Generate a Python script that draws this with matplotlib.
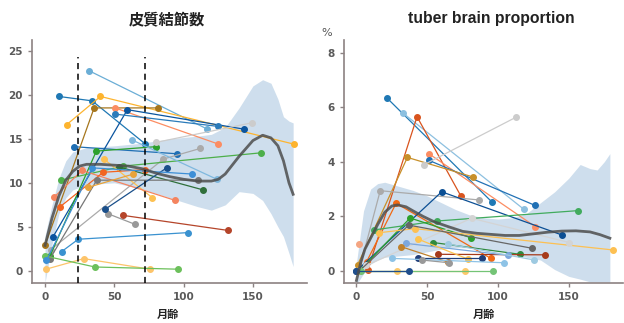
import matplotlib.pyplot as plt

plt.rcParams['font.family'] = ['Noto Sans CJK JP', 'DejaVu Sans']

# ---- left panel data (皮質結節数) ----
left_months = [
    [32, 117], [10, 34, 72.4], [21, 95], [4, 85.4, 112], [15.6, 40, 179.3],
    [0, 35.4, 81.8], [50.5, 125], [5.5, 59.4, 143.2], [50.5, 125], [3.6, 37, 79.8],
    [11.6, 56.5, 155.5], [53.4, 114], [42.4, 77.5], [6.7, 26.7, 94], [11, 42, 72.4],
    [3.6, 37.3, 110], [45.3, 64.8], [43.3, 87.8], [56.6, 132], [12, 24, 103],
    [0.7, 28, 75.6], [0, 36, 96], [80.4, 149], [1, 34, 106], [31.3, 63.8], [63, 124],
]
left_counts = [
    [22.7, 16.1], [19.8, 19.3, 14.4], [14.1, 13.3], [2.4, 12.7, 13.9], [16.6, 19.8, 14.4],
    [2.9, 18.5, 18.5], [18.5, 14.4], [3.8, 18.3, 16.1], [17.8, 16.4], [1.7, 13.6, 14.1],
    [10.3, 11.9, 13.4], [11.8, 9.2], [12.7, 8.3], [8.4, 11.4, 8.0], [7.3, 11.2, 11.5],
    [1.4, 10.3, 10.3], [6.5, 5.3], [7.0, 11.7], [6.3, 4.6], [2.2, 3.6, 4.35],
    [0.2, 1.4, 0.2], [1.7, 0.45, 0.2], [14.6, 16.8], [1.2, 11.7, 11.0], [9.5, 11.0], [14.85, 10.4],
]
left_colors = [
    '#6baed6', '#1f78b4', '#1f6fb4', '#aaaaaa', '#fdb42f',
    '#a6761d', '#fc8d62', '#0b559f', '#2b7bba', '#2ca02c',
    '#4daf4a', '#2f6f3a', '#fdc152', '#f4845f', '#f26522',
    '#777777', '#999999', '#1a4f8a', '#b5452a', '#3a92d0',
    '#fdc46a', '#6cc05b', '#cccccc', '#3d8fd6', '#e8a33a', '#7fb8de',
]

left_band_x = [0, 5, 10, 15, 20, 30, 50, 70, 90, 110, 120, 130, 140, 150, 157, 163, 168, 172, 176, 179]
left_band_hi = [4, 7.5, 10.5, 12.5, 13.5, 14, 14.2, 14.5, 15, 15.3, 15.5, 16.3, 18.5, 21, 21.7, 21.3, 19.5, 17.5, 17, 16.8]
left_band_lo = [-1.3, 3.0, 6.5, 8.3, 9.2, 9.8, 10.0, 9.3, 8.3, 7.3, 6.9, 7.5, 9.0, 8.8, 8.0, 6.5, 5.0, 3.9, 2.0, 0.5]

left_fit_x = [0, 5, 10, 15, 20, 25, 30, 40, 50, 60, 70, 80, 90, 100, 110, 120, 125, 130, 140, 150, 157, 163, 168, 172, 176, 179]
left_fit_y = [2.9, 6, 8.5, 10.3, 11.3, 11.9, 12.1, 12.1, 12, 11.9, 11.6, 11.1, 10.7, 10.4, 10.2, 10.2, 10.4, 11, 13, 14.8, 15.4, 15.1, 14.2, 12.5, 10.0, 8.7]

# ---- right panel data (tuber brain proportion, %) ----
right_months = [
    [21.7, 95.4], [33, 118.2], [8, 42.8, 73.6], [7.2, 28, 94.9], [51.3, 126.4],
    [51.3, 126.2], [0.8, 36, 82.5], [48, 113], [2, 16.8, 86.8], [0, 60.2, 145],
    [12.2, 56.9, 156.5], [2, 37.9, 80.6], [16, 41.2, 181], [7, 81.3, 150.4], [2, 37, 124.1],
    [54.4, 115.4], [57.4, 133.5], [35.1, 107.3], [64.4, 125.6], [31.5, 64.4],
    [43.3, 78.5], [43.8, 88.6], [25, 104.2], [46.1, 65.4], [2, 28.5, 76.4],
    [3, 96.8], [0, 36.8], [1.5],
]
right_pct = [
    [6.33, 2.54], [5.78, 2.26], [0.04, 5.65, 2.76], [0.34, 2.48, 0.46], [4.29, 1.62],
    [4.05, 2.4], [0.22, 4.16, 3.44], [3.9, 5.64], [0.05, 2.94, 2.6], [0, 2.9, 1.32],
    [1.5, 1.83, 2.21], [0, 1.94, 1.22], [1.4, 1.55, 0.77], [0.2, 1.93, 1.04], [0, 1.68, 0.83],
    [1.04, 0.61], [0.61, 0.59], [1.01, 0.57], [0.99, 0.4], [0.89, 0.33],
    [1.17, 0.44], [0.46, 0.46], [0.46, 0.3], [0.4, 0.3], [0, 0, 0],
    [0, 0], [0, 0], [0.99],
]
right_colors = [
    '#1f78b4', '#8cc0e0', '#d9541e', '#f16913', '#fc8d62',
    '#2171b5', '#c8902a', '#cccccc', '#aaaaaa', '#0b4f94',
    '#41ab5d', '#2ca02c', '#fdc052', '#d4d4d4', '#666666',
    '#2f8a3f', '#a63a1a', '#7ba7dd', '#9ecae1', '#bf812d',
    '#fec44f', '#1f3f7a', '#8ec3e6', '#999999', '#fdc96a',
    '#74c476', '#1f4e8c', '#f4a582',
]

right_band_x = [0, 5, 10, 15, 20, 30, 40, 50, 60, 70, 80, 90, 100, 110, 120, 130, 140, 150, 158, 165, 170, 175, 179]
right_band_hi = [0.3, 2.2, 3.0, 3.2, 3.25, 3.1, 2.95, 2.75, 2.5, 2.25, 2.05, 1.95, 1.9, 1.95, 2.1, 2.5, 2.9, 3.4, 3.9, 3.75, 3.7, 4.0, 4.3]
right_band_lo = [-0.5, -0.1, 0.25, 0.4, 0.5, 0.55, 0.6, 0.7, 0.8, 0.85, 0.85, 0.8, 0.75, 0.65, 0.5, 0.4, 0.05, -0.2, -0.3, -0.4, -0.4, -0.4, -0.4]

right_fit_x = [0, 3, 6, 10, 15, 20, 25, 29, 35, 40, 47, 55, 65, 75, 85, 95, 105, 115, 125, 135, 145, 155, 165, 172, 179]
right_fit_y = [-0.35, 0.3, 0.8, 1.2, 1.7, 2.15, 2.38, 2.42, 2.35, 2.2, 2.0, 1.8, 1.62, 1.45, 1.38, 1.34, 1.3, 1.3, 1.36, 1.42, 1.46, 1.47, 1.43, 1.33, 1.2]

x_ticks = [0, 50, 100, 150]
left_y_ticks = [0, 5, 10, 15, 20, 25]
right_y_ticks = [0, 2, 4, 6, 8]
age_marks = [24, 72]

spine_color = '#8c8282'
label_color = '#5a5a5a'


def style_axes(ax):
    # only left/bottom spines, grey, like the original
    for side in ['top', 'right']:
        ax.spines[side].set_visible(False)
    for side in ['left', 'bottom']:
        ax.spines[side].set_color(spine_color)
        ax.spines[side].set_linewidth(1.2)
    ax.tick_params(colors=spine_color, labelcolor=label_color, labelsize=7.5, length=3, width=1)
    for lab in ax.get_xticklabels() + ax.get_yticklabels():
        lab.set_fontweight('bold')
        lab.set_family(['DejaVu Sans'])


def draw_panel(ax, xs, ys, colors, band_x, band_lo, band_hi, fit_x, fit_y):
    ax.fill_between(band_x, band_lo, band_hi, color='#c9dbeb', alpha=0.9, lw=0, zorder=1)
    for x, y, c in zip(xs, ys, colors):
        ax.plot(x, y, color=c, lw=0.9, marker='o', ms=4, zorder=2)
    ax.plot(fit_x, fit_y, color='#4d4d4d', lw=2.0, alpha=0.85, zorder=3)


fig = plt.figure(figsize=(6.24, 3.23), dpi=100)
ax1 = fig.add_axes([0.0513, 0.124, 0.4407, 0.752])
ax2 = fig.add_axes([0.5508, 0.124, 0.447, 0.752])

draw_panel(ax1, left_months, left_counts, left_colors,
           left_band_x, left_band_lo, left_band_hi, left_fit_x, left_fit_y)
for m in age_marks:
    ax1.plot([m, m], [-1.36, 24.3], color='black', lw=1.1, ls=(0, (4, 3)), zorder=4)
ax1.set_xlim(-9.4, 189)
ax1.set_ylim(-1.36, 26.2)
ax1.set_xticks(x_ticks)
ax1.set_yticks(left_y_ticks)
style_axes(ax1)

draw_panel(ax2, right_months, right_pct, right_colors,
           right_band_x, right_band_lo, right_band_hi, right_fit_x, right_fit_y)
ax2.set_xlim(-9, 188)
ax2.set_ylim(-0.44, 8.46)
ax2.set_xticks(x_ticks)
ax2.set_yticks(right_y_ticks)
style_axes(ax2)

# titles and labels
fig.text(167 / 624, 1 - 20 / 323, '皮質結節数', ha='center', va='center',
         fontsize=11, fontweight='bold', color='#222222')
fig.text(491 / 624, 1 - 19 / 323, 'tuber brain proportion', ha='center', va='center',
         fontsize=11.3, fontweight='bold', color='#222222', family=['Liberation Sans'])
fig.text(168 / 624, 1 - 314 / 323, '月齢', ha='center', va='center',
         fontsize=8, fontweight='bold', color='#222222')
fig.text(484 / 624, 1 - 314 / 323, '月齢', ha='center', va='center',
         fontsize=8, fontweight='bold', color='#222222')
fig.text(327 / 624, 1 - 33 / 323, '%', ha='center', va='center',
         fontsize=8, color='#555555', family=['DejaVu Sans'])

fig.savefig('out.png', dpi=100)
